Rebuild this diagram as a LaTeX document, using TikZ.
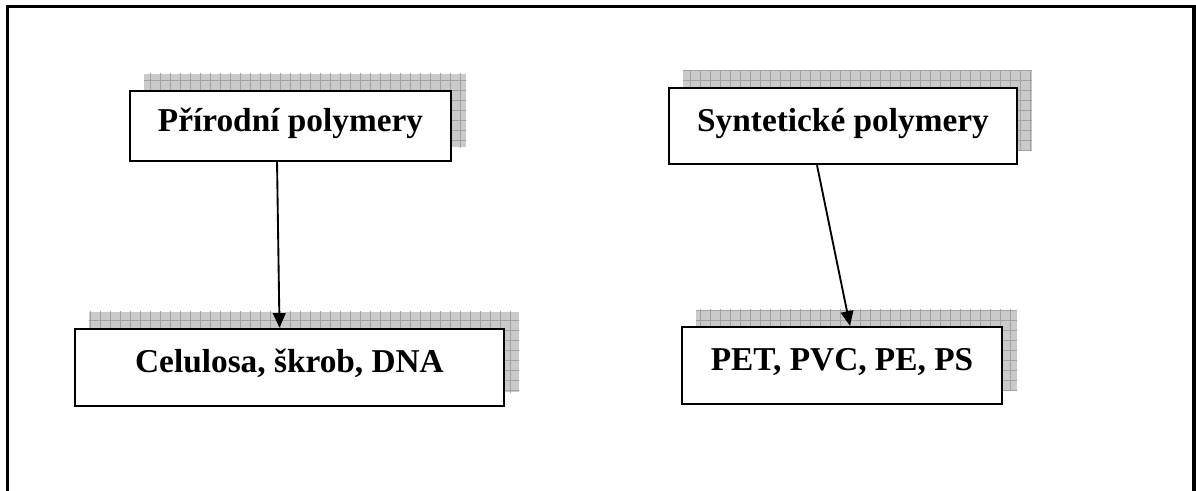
\documentclass[tikz,border=0pt]{standalone}
\usepackage{fontspec}
\setmainfont{Liberation Serif}
\usetikzlibrary{arrows.meta,calc,backgrounds}
\definecolor{shadowfill}{HTML}{CACACA}
\definecolor{shadowgrid}{HTML}{A2A2A2}
\tikzset{
  pbox/.style={draw=black, line width=1.8pt, fill=white, rectangle, inner sep=0pt,
    font=\fontsize{25pt}{28pt}\selectfont\bfseries, text height=7.5pt, text depth=0pt},
  conn/.style={line width=1.4pt, -{Triangle[length=11pt,width=9.5pt]}},
  frame/.style={line width=2.4pt, line cap=rect},
}
\newcommand{\gridshadow}[1]{%
  \begin{scope}
    \clip ([shift={(15,-16)}]#1.north west) rectangle ([shift={(14,-15)}]#1.south east);
    \fill[shadowfill] ([shift={(15,-16)}]#1.north west) rectangle ([shift={(14,-15)}]#1.south east);
    \draw[shadowgrid, line width=0.6pt, step=7.5pt] ([shift={(0,-30)}]#1.north west) grid ([shift={(30,0)}]#1.south east);
  \end{scope}}
\begin{document}
\begin{tikzpicture}[x=0.75pt,y=-0.75pt]
\useasboundingbox (0,0) rectangle (1196,490);
\draw[frame] (7.5,492) -- (7.5,6.5) -- (1194,6.5) -- (1194,492);

\node[pbox, minimum width=321*0.75pt, minimum height=70*0.75pt] (nat) at (290.5,126) {Přírodní polymery};
\node[pbox, minimum width=429*0.75pt, minimum height=77*0.75pt] (natex) at (289.5,367.5) {Celulosa, škrob, DNA};
\node[pbox, minimum width=348*0.75pt, minimum height=76*0.75pt] (syn) at (843,126) {Syntetické polymery};
\node[pbox, minimum width=320*0.75pt, minimum height=77*0.75pt] (synex) at (842,365.5) {PET, PVC, PE, PS};

\begin{scope}[on background layer]
  \fill[white] (0,0) rectangle (1196,490);
  \gridshadow{nat}
  \gridshadow{natex}
  \gridshadow{syn}
  \gridshadow{synex}
\end{scope}

\draw[conn] ([xshift=-10.1pt]nat.south) -- ([xshift=-7.5pt]natex.north);
\draw[conn] ([xshift=-19.5pt]syn.south) -- ([xshift=6pt]synex.north);
\end{tikzpicture}
\end{document}
